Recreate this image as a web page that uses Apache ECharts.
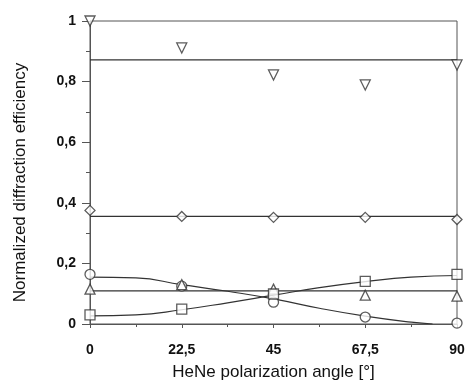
<!DOCTYPE html>
<html>
<head>
<meta charset="utf-8">
<style>
  html, body { margin: 0; padding: 0; background: #fff; }
  #chart { width: 468px; height: 386px; }
</style>
<script src="https://cdn.jsdelivr.net/npm/echarts@6/dist/echarts.min.js"></script>
</head>
<body>
<div id="chart"></div>
<script>
// polarization angles (deg)
var angles = [0, 22.5, 45, 67.5, 90];

// measured points per marker type
var downTri = [1.0, 0.911, 0.822, 0.789, 0.855];
var diamonds = [0.375, 0.355, 0.352, 0.352, 0.345];
var circles = [0.164, 0.125, 0.072, 0.023, 0.003];
var upTri = [0.115, 0.13, 0.115, 0.095, 0.092];
var squares = [0.03, 0.049, 0.099, 0.141, 0.164];

// fitted lines
var downTriFit = 0.872;
var diamondFit = 0.355;
var upTriFit = 0.109;
var fitAngles = [0, 11.25, 22.5, 33.75, 45, 56.25, 67.5, 78.75, 84];
var circleFit = [0.155, 0.152, 0.13, 0.108, 0.083, 0.052, 0.026, 0.006, 0];
var squareAngles = [0, 11.25, 22.5, 33.75, 45, 56.25, 67.5, 78.75, 90];
var squareFit = [0.027, 0.03, 0.047, 0.07, 0.095, 0.12, 0.14, 0.155, 0.16];

var ink = '#333';
var fontFam = 'Liberation Sans, Arial, sans-serif';

function pairs(xs, ys) {
  return xs.map(function (x, i) { return [x, ys[i]]; });
}

function markers(name, ys, symbol, size, rotate) {
  return {
    name: name,
    type: 'scatter',
    data: pairs(angles, ys),
    symbol: symbol,
    symbolSize: size,
    symbolRotate: rotate || 0,
    clip: false,
    z: 5,
    itemStyle: { color: '#fff', borderColor: ink, borderWidth: 1.3 }
  };
}

function fitLine(xs, ys) {
  return {
    type: 'line',
    data: pairs(xs, ys),
    smooth: true,
    symbol: 'none',
    silent: true,
    lineStyle: { color: ink, width: 1.2 }
  };
}

function flatLine(v) {
  return fitLine([0, 90], [v, v]);
}

var chart = echarts.init(document.getElementById('chart'));

var tickFont = { color: '#111', fontSize: 14, fontWeight: 'bold', fontFamily: fontFam };

chart.setOption({
  animation: false,
  backgroundColor: '#fff',
  grid: { left: 90, right: 11, top: 21, bottom: 61, show: true, borderColor: '#555', borderWidth: 1 },
  xAxis: {
    type: 'value',
    min: 0,
    max: 90,
    interval: 22.5,
    name: 'HeNe polarization angle [°]',
    nameLocation: 'middle',
    nameGap: 40,
    nameTextStyle: { color: '#111', fontSize: 17, fontFamily: fontFam },
    axisLine: { lineStyle: { color: '#555' } },
    axisTick: { inside: false, length: 4, lineStyle: { color: '#555' } },
    minorTick: { show: true, splitNumber: 2, length: 3, lineStyle: { color: '#555' } },
    splitLine: { show: false },
    axisLabel: Object.assign({ margin: 19, formatter: function (v) { return String(v).replace('.', ','); } }, tickFont)
  },
  yAxis: {
    type: 'value',
    min: 0,
    max: 1,
    interval: 0.2,
    name: 'Normalized diffraction efficiency',
    nameLocation: 'middle',
    nameGap: 61,
    nameTextStyle: { color: '#111', fontSize: 17, fontFamily: fontFam, padding: [0, 20, 0, 0] },
    axisLine: { lineStyle: { color: '#555' } },
    axisTick: { inside: false, length: 8, lineStyle: { color: '#555' } },
    minorTick: { show: true, splitNumber: 2, length: 4, lineStyle: { color: '#555' } },
    splitLine: { show: false },
    axisLabel: Object.assign({ margin: 14, formatter: function (v) { return String(+v.toFixed(1)).replace('.', ','); } }, tickFont)
  },
  series: [
    flatLine(downTriFit),
    flatLine(diamondFit),
    flatLine(upTriFit),
    fitLine(fitAngles, circleFit),
    fitLine(squareAngles, squareFit),
    markers('down', downTri, 'triangle', 10, 180),
    markers('diamond', diamonds, 'diamond', 10),
    markers('circle', circles, 'circle', 10),
    markers('up', upTri, 'triangle', 10),
    markers('square', squares, 'rect', 10)
  ]
});
</script>
</body>
</html>
